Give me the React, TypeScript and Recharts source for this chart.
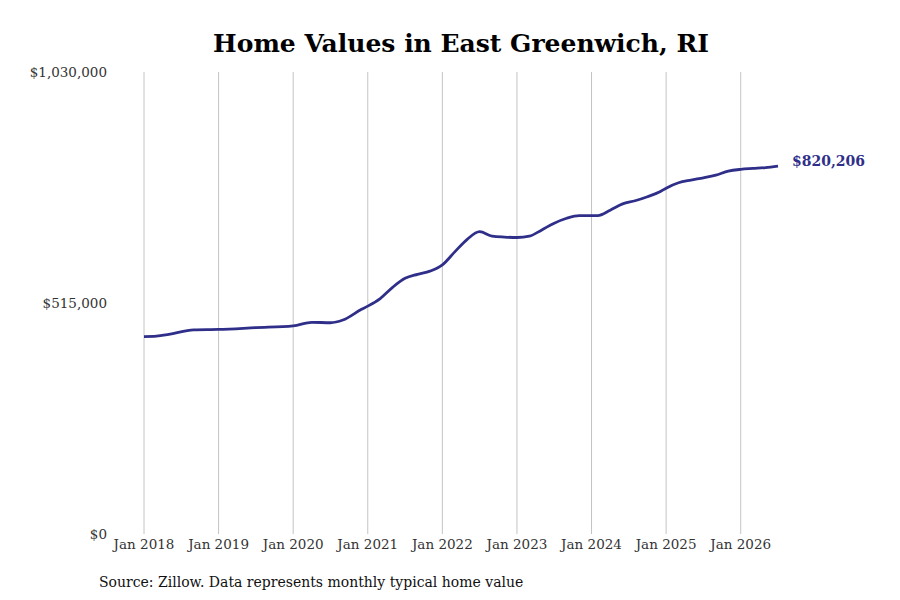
import { LineChart, Line, XAxis, YAxis, CartesianGrid } from "recharts";

// Zillow typical home value, East Greenwich RI
const months = [
  "2018-01", "2018-03", "2018-05", "2018-09", "2019-01", "2019-07",
  "2020-01", "2020-04", "2020-07", "2020-09", "2020-12", "2021-01",
  "2021-03", "2021-05", "2021-07", "2021-09", "2021-11", "2022-01",
  "2022-03", "2022-05", "2022-07", "2022-09", "2022-11", "2023-01",
  "2023-03", "2023-05", "2023-07", "2023-09", "2023-11", "2024-01",
  "2024-02", "2024-04", "2024-06", "2024-08", "2024-10", "2024-12",
  "2025-01", "2025-03", "2025-05", "2025-07", "2025-09", "2025-11",
  "2026-01", "2026-03", "2026-05", "2026-07",
];
const values = [
  440000, 441000, 445000, 455000, 456000, 460000,
  464000, 472000, 471000, 477000, 501000, 508000,
  525000, 550000, 570000, 579000, 586000, 600000,
  629000, 657000, 674000, 664000, 662000, 661000,
  664000, 678000, 693000, 704000, 710000, 710000,
  710000, 722000, 736000, 743000, 752000, 763000,
  771000, 783000, 789000, 794000, 800000, 809000,
  813000, 815000, 817000, 820206,
];
const yearTicks = [2018, 2019, 2020, 2021, 2022, 2023, 2024, 2025, 2026];
const valueTicks = [0, 515000, 1030000];

const LINE_COLOR = "#2f2f8a";
const FONT = "'DejaVu Serif', serif";

function monthIndex(label: string): number {
  const [y, m] = label.split("-").map(Number);
  return (y - 2018) * 12 + (m - 1);
}

const data = months.map((m, i) => ({ t: monthIndex(m), value: values[i] }));
const lastIndex = data.length - 1;

const money = (v: number) => `$${v.toLocaleString("en-US")}`;

function EndLabel(props: any) {
  const { x, y, index } = props;
  if (index !== lastIndex) return null;
  return (
    <text
      x={x + 14}
      y={y - 4}
      dominantBaseline="middle"
      fill={LINE_COLOR}
      fontFamily={FONT}
      fontSize={14}
      fontWeight="bold"
    >
      {money(values[lastIndex])}
    </text>
  );
}

export default function App() {
  return (
    <div style={{ position: "relative", width: 884, height: 584, fontFamily: FONT }}>
      <div
        style={{
          position: "absolute",
          left: 136,
          width: 634,
          top: 21,
          textAlign: "center",
          fontSize: 25,
          fontWeight: "bold",
          color: "#000",
        }}
      >
        Home Values in East Greenwich, RI
      </div>
      <LineChart
        width={884}
        height={556}
        data={data}
        margin={{ top: 64, right: 114, left: 0, bottom: 0 }}
      >
        <CartesianGrid horizontal={false} stroke="#c4c4c4" syncWithTicks />
        <XAxis
          type="number"
          dataKey="t"
          domain={[0, 102]}
          ticks={yearTicks.map((y) => (y - 2018) * 12)}
          tickFormatter={(v: number) => `Jan ${2018 + v / 12}`}
          axisLine={false}
          tickLine={false}
          tickSize={0}
          tickMargin={5}
          height={30}
          tick={{ fontSize: 13.5, fill: "#333", fontFamily: FONT }}
          interval={0}
        />
        <YAxis
          type="number"
          domain={[0, 1030000]}
          ticks={valueTicks}
          tickFormatter={money}
          axisLine={false}
          tickLine={false}
          tickSize={0}
          tickMargin={37}
          width={136}
          tick={{ fontSize: 13.5, fill: "#333", fontFamily: FONT }}
          interval={0}
        />
        <Line
          type="monotone"
          dataKey="value"
          stroke={LINE_COLOR}
          strokeWidth={2.8}
          dot={false}
          isAnimationActive={false}
          label={<EndLabel />}
        />
      </LineChart>
      <div
        style={{
          position: "absolute",
          left: 91,
          top: 566,
          fontSize: 14,
          color: "#111",
        }}
      >
        Source: Zillow. Data represents monthly typical home value
      </div>
    </div>
  );
}
